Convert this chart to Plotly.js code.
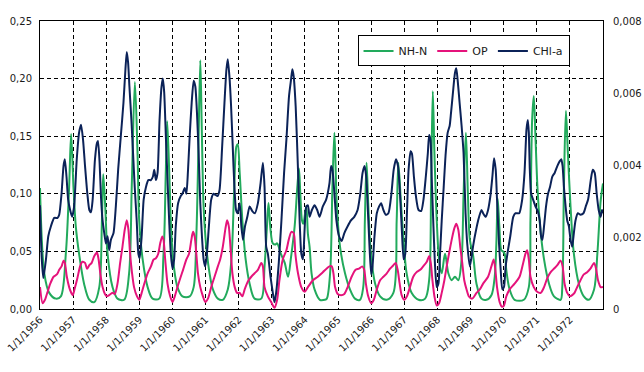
<!DOCTYPE html>
<html>
<head>
<meta charset="utf-8">
<script src="https://cdn.plot.ly/plotly-3.0.1.min.js"></script>
<style>
  html, body { margin: 0; padding: 0; background: #ffffff; }
  #chart { width: 644px; height: 372px; }
</style>
</head>
<body>
<div id="chart"></div>
<script>
// Tick positions (decimal years) and their labels
var tickYears = [1956,1957,1958,1959,1960,1961,1962,1963,1964,1965,1966,1967,1968,1969,1970,1971,1972];
var tickLabels = ['1/1/1956','1/1/1957','1/1/1958','1/1/1959','1/1/1960','1/1/1961','1/1/1962','1/1/1963','1/1/1964','1/1/1965','1/1/1966','1/1/1967','1/1/1968','1/1/1969','1/1/1970','1/1/1971','1/1/1972'];

// NH-N (left axis)
var nhX = [1956.00,1956.13,1956.28,1956.48,1956.63,1956.78,1956.88,1956.94,1957.01,1957.08,
1957.18,1957.33,1957.49,1957.64,1957.79,1957.87,1957.91,1957.97,1958.04,1958.19,
1958.34,1958.54,1958.69,1958.77,1958.865,1958.945,1958.995,1959.10,1959.25,1959.40,
1959.60,1959.73,1959.80,1959.84,1959.90,1959.97,1960.05,1960.15,1960.30,1960.52,
1960.64,1960.72,1960.78,1960.84,1960.88,1960.94,1961.02,1961.12,1961.22,1961.37,
1961.52,1961.67,1961.78,1961.86,1961.93,1961.97,1962.03,1962.11,1962.21,1962.33,
1962.48,1962.68,1962.78,1962.85,1962.90,1962.96,1963.03,1963.10,1963.16,1963.27,
1963.39,1963.49,1963.58,1963.69,1963.77,1963.82,1963.86,1963.91,1963.95,1964.04,
1964.09,1964.14,1964.20,1964.29,1964.45,1964.60,1964.66,1964.76,1964.83,1964.89,
1964.96,1965.06,1965.21,1965.36,1965.51,1965.66,1965.76,1965.81,1965.86,1965.91,
1965.99,1966.12,1966.27,1966.47,1966.67,1966.77,1966.82,1966.90,1966.97,1967.07,
1967.22,1967.43,1967.63,1967.75,1967.81,1967.86,1967.91,1967.98,1968.05,1968.13,
1968.23,1968.33,1968.43,1968.53,1968.63,1968.73,1968.79,1968.86,1968.92,1968.98,
1969.08,1969.18,1969.33,1969.48,1969.63,1969.73,1969.78,1969.82,1969.87,1969.93,
1969.98,1970.03,1970.08,1970.18,1970.33,1970.61,1970.76,1970.81,1970.86,1970.91,
1970.96,1971.02,1971.10,1971.22,1971.37,1971.52,1971.72,1971.77,1971.82,1971.88,
1971.94,1972.02,1972.12,1972.27,1972.42,1972.57,1972.73,1972.83,1972.93,1973.00];
var nhY = [0.105,0.031,0.014,0.009,0.011,0.048,0.106,0.152,0.106,0.072,
0.048,0.022,0.008,0.006,0.019,0.077,0.117,0.089,0.048,0.019,
0.009,0.008,0.031,0.106,0.197,0.135,0.077,0.043,0.019,0.009,
0.009,0.048,0.121,0.163,0.121,0.063,0.035,0.019,0.011,0.011,
0.019,0.063,0.135,0.216,0.164,0.089,0.054,0.031,0.017,0.009,
0.008,0.017,0.043,0.100,0.141,0.143,0.118,0.077,0.043,0.022,
0.009,0.009,0.037,0.070,0.092,0.069,0.057,0.056,0.057,0.048,
0.040,0.028,0.045,0.072,0.106,0.122,0.100,0.077,0.074,0.089,
0.065,0.054,0.031,0.017,0.008,0.008,0.009,0.031,0.106,0.153,
0.092,0.054,0.031,0.017,0.009,0.008,0.019,0.077,0.127,0.092,
0.048,0.022,0.011,0.008,0.014,0.077,0.127,0.092,0.063,0.031,
0.014,0.008,0.009,0.025,0.106,0.189,0.135,0.077,0.043,0.031,
0.048,0.031,0.025,0.028,0.025,0.043,0.100,0.153,0.100,0.060,
0.046,0.022,0.009,0.008,0.012,0.028,0.057,0.096,0.072,0.051,
0.050,0.048,0.034,0.017,0.008,0.008,0.019,0.077,0.164,0.185,
0.150,0.106,0.072,0.043,0.022,0.011,0.008,0.019,0.106,0.172,
0.135,0.089,0.048,0.022,0.011,0.008,0.017,0.048,0.094,0.109];

// OP (left axis)
var opX = [1956.00,1956.08,1956.15,1956.23,1956.31,1956.41,1956.51,1956.58,1956.65,1956.71,
1956.75,1956.81,1956.88,1956.93,1956.99,1957.05,1957.13,1957.21,1957.28,1957.36,
1957.42,1957.49,1957.56,1957.64,1957.72,1957.77,1957.82,1957.89,1957.96,1958.02,
1958.09,1958.19,1958.26,1958.34,1958.42,1958.49,1958.56,1958.62,1958.67,1958.72,
1958.78,1958.84,1958.93,1959.00,1959.07,1959.15,1959.25,1959.35,1959.43,1959.50,
1959.57,1959.63,1959.69,1959.73,1959.78,1959.85,1959.93,1960.00,1960.07,1960.15,
1960.25,1960.32,1960.42,1960.50,1960.57,1960.62,1960.67,1960.72,1960.77,1960.84,
1960.92,1960.99,1961.07,1961.17,1961.27,1961.37,1961.44,1961.52,1961.60,1961.65,
1961.70,1961.75,1961.81,1961.88,1961.95,1962.03,1962.11,1962.18,1962.28,1962.38,
1962.48,1962.58,1962.68,1962.73,1962.78,1962.88,1962.98,1963.08,1963.16,1963.23,
1963.33,1963.44,1963.51,1963.59,1963.66,1963.71,1963.79,1963.89,1963.99,1964.09,
1964.24,1964.39,1964.54,1964.74,1964.81,1964.86,1964.91,1964.99,1965.09,1965.19,
1965.29,1965.41,1965.53,1965.63,1965.73,1965.79,1965.84,1965.91,1966.00,1966.08,
1966.17,1966.27,1966.37,1966.47,1966.57,1966.67,1966.74,1966.80,1966.86,1966.92,
1967.00,1967.08,1967.17,1967.27,1967.37,1967.48,1967.57,1967.68,1967.75,1967.80,
1967.85,1967.91,1967.98,1968.05,1968.13,1968.21,1968.28,1968.35,1968.43,1968.51,
1968.57,1968.63,1968.69,1968.75,1968.81,1968.88,1968.95,1969.05,1969.18,1969.28,
1969.38,1969.53,1969.63,1969.70,1969.75,1969.80,1969.88,1969.95,1970.01,1970.08,
1970.18,1970.33,1970.48,1970.59,1970.66,1970.71,1970.76,1970.81,1970.91,1971.01,
1971.12,1971.22,1971.32,1971.42,1971.52,1971.62,1971.72,1971.78,1971.84,1971.92,
1972.00,1972.07,1972.14,1972.22,1972.32,1972.42,1972.52,1972.62,1972.73,1972.79,
1972.85,1972.93,1973.00];
var opY = [0.019,0.005,0.008,0.015,0.022,0.028,0.030,0.034,0.037,0.042,
0.040,0.028,0.019,0.015,0.012,0.018,0.027,0.037,0.041,0.040,
0.035,0.038,0.040,0.046,0.049,0.043,0.031,0.019,0.013,0.011,
0.012,0.014,0.013,0.022,0.040,0.054,0.069,0.077,0.069,0.048,
0.031,0.019,0.011,0.008,0.014,0.022,0.031,0.037,0.043,0.044,
0.048,0.057,0.063,0.060,0.043,0.022,0.011,0.006,0.011,0.019,
0.028,0.034,0.043,0.048,0.060,0.067,0.063,0.048,0.031,0.019,
0.011,0.006,0.009,0.019,0.028,0.037,0.043,0.054,0.070,0.077,
0.072,0.054,0.031,0.019,0.014,0.014,0.011,0.017,0.024,0.028,
0.031,0.034,0.040,0.037,0.019,0.011,0.006,0.001,0.008,0.025,
0.043,0.051,0.060,0.067,0.066,0.048,0.031,0.019,0.015,0.019,
0.025,0.028,0.032,0.037,0.037,0.031,0.019,0.013,0.012,0.013,
0.019,0.028,0.034,0.035,0.037,0.034,0.022,0.011,0.005,0.008,
0.017,0.025,0.028,0.031,0.035,0.038,0.040,0.034,0.022,0.012,
0.008,0.011,0.019,0.028,0.032,0.034,0.037,0.041,0.046,0.040,
0.025,0.011,0.003,0.005,0.014,0.025,0.037,0.048,0.060,0.070,
0.074,0.069,0.054,0.040,0.025,0.017,0.011,0.009,0.014,0.017,
0.022,0.028,0.037,0.043,0.034,0.019,0.006,0.002,0.003,0.011,
0.017,0.022,0.028,0.040,0.048,0.051,0.043,0.028,0.019,0.015,
0.014,0.019,0.027,0.032,0.035,0.038,0.042,0.037,0.022,0.014,
0.011,0.012,0.014,0.019,0.025,0.030,0.032,0.035,0.040,0.035,
0.025,0.019,0.019];

// CHl-a (right axis)
var chlX = [1956.00,1956.05,1956.10,1956.18,1956.25,1956.33,1956.43,1956.53,1956.58,1956.65,
1956.71,1956.75,1956.80,1956.85,1956.91,1956.97,1957.03,1957.11,1957.18,1957.24,
1957.30,1957.36,1957.43,1957.49,1957.54,1957.59,1957.66,1957.72,1957.75,1957.80,
1957.84,1957.89,1957.94,1957.99,1958.04,1958.09,1958.14,1958.22,1958.29,1958.36,
1958.44,1958.52,1958.58,1958.62,1958.66,1958.70,1958.76,1958.81,1958.86,1958.92,
1958.97,1959.01,1959.07,1959.13,1959.20,1959.27,1959.35,1959.41,1959.45,1959.50,
1959.55,1959.61,1959.67,1959.71,1959.75,1959.80,1959.85,1959.90,1959.95,1960.00,
1960.05,1960.10,1960.17,1960.25,1960.30,1960.37,1960.42,1960.47,1960.52,1960.58,
1960.64,1960.69,1960.74,1960.79,1960.84,1960.89,1960.94,1960.99,1961.04,1961.10,
1961.17,1961.24,1961.30,1961.36,1961.42,1961.50,1961.57,1961.63,1961.67,1961.72,
1961.77,1961.82,1961.87,1961.92,1961.97,1962.03,1962.08,1962.13,1962.19,1962.26,
1962.33,1962.41,1962.49,1962.58,1962.66,1962.73,1962.78,1962.83,1962.88,1962.96,
1963.03,1963.08,1963.13,1963.21,1963.29,1963.37,1963.44,1963.52,1963.58,1963.62,
1963.66,1963.72,1963.79,1963.84,1963.89,1963.94,1963.99,1964.04,1964.09,1964.14,
1964.21,1964.29,1964.37,1964.44,1964.54,1964.64,1964.74,1964.79,1964.83,1964.89,
1964.95,1965.03,1965.11,1965.19,1965.29,1965.39,1965.49,1965.59,1965.67,1965.74,
1965.80,1965.85,1965.90,1965.95,1966.00,1966.04,1966.10,1966.17,1966.24,1966.30,
1966.37,1966.44,1966.52,1966.61,1966.68,1966.75,1966.81,1966.87,1966.93,1966.98,
1967.03,1967.08,1967.13,1967.19,1967.23,1967.29,1967.35,1967.43,1967.51,1967.58,
1967.65,1967.71,1967.75,1967.79,1967.83,1967.88,1967.93,1967.98,1968.03,1968.08,
1968.13,1968.19,1968.25,1968.31,1968.37,1968.41,1968.47,1968.53,1968.57,1968.61,
1968.67,1968.73,1968.79,1968.85,1968.90,1968.98,1969.08,1969.13,1969.23,1969.33,
1969.38,1969.46,1969.53,1969.60,1969.66,1969.71,1969.76,1969.80,1969.86,1969.91,
1969.96,1970.01,1970.06,1970.13,1970.20,1970.29,1970.36,1970.47,1970.56,1970.63,
1970.69,1970.73,1970.76,1970.79,1970.83,1970.89,1970.96,1971.03,1971.09,1971.13,
1971.17,1971.22,1971.28,1971.34,1971.40,1971.47,1971.54,1971.62,1971.69,1971.74,
1971.78,1971.82,1971.87,1971.92,1971.97,1972.02,1972.07,1972.12,1972.17,1972.24,
1972.32,1972.41,1972.48,1972.55,1972.63,1972.69,1972.75,1972.81,1972.87,1972.93,
1972.97,1973.00];
var chlY = [0.00288,0.00144,0.00086,0.00138,0.00202,0.0023,0.00253,0.00253,0.00262,0.0032,
0.00397,0.00416,0.00368,0.00304,0.00275,0.00256,0.00285,0.00416,0.0049,0.00512,
0.0047,0.00397,0.0032,0.00275,0.00269,0.00304,0.00416,0.00461,0.00467,0.00406,
0.00314,0.00246,0.00211,0.00182,0.00202,0.00163,0.00192,0.00211,0.00285,0.00387,
0.0048,0.00573,0.00666,0.00714,0.00685,0.00618,0.00525,0.00432,0.00339,0.00246,
0.00154,0.00141,0.00202,0.00304,0.00339,0.00358,0.00358,0.00368,0.00387,0.00358,
0.00378,0.00525,0.00618,0.0064,0.00602,0.0048,0.00358,0.00246,0.00154,0.00112,
0.00138,0.0023,0.00294,0.00314,0.0032,0.00336,0.0032,0.00387,0.0048,0.00573,
0.00634,0.00618,0.00544,0.00432,0.00294,0.00202,0.00138,0.00118,0.00154,0.0023,
0.00304,0.0032,0.00317,0.00314,0.0033,0.00451,0.00573,0.00666,0.00694,0.00646,
0.00563,0.00451,0.00339,0.00275,0.00266,0.00294,0.0023,0.00192,0.0023,0.00256,
0.00285,0.00272,0.00266,0.00294,0.00349,0.00406,0.00339,0.00173,0.00154,0.0009,
0.00045,0.00019,0.00045,0.00128,0.00246,0.00378,0.0047,0.00592,0.00637,0.00666,
0.00646,0.00563,0.00387,0.00246,0.00154,0.00138,0.00221,0.00285,0.00288,0.00256,
0.00275,0.00288,0.00275,0.00256,0.00285,0.00304,0.00349,0.00397,0.00387,0.0032,
0.00246,0.00202,0.00189,0.00211,0.0023,0.00246,0.00256,0.00275,0.0032,0.00378,
0.00397,0.00368,0.00275,0.00173,0.00096,0.00118,0.00202,0.00266,0.00285,0.00294,
0.00275,0.00262,0.00266,0.0032,0.00387,0.00416,0.00397,0.0032,0.00211,0.00138,
0.00154,0.00266,0.00387,0.00438,0.00432,0.00368,0.00314,0.00275,0.00272,0.00304,
0.00368,0.00432,0.00483,0.0047,0.00358,0.0023,0.00118,0.00061,0.0007,0.00154,
0.00246,0.00339,0.00432,0.0049,0.00509,0.00544,0.00602,0.00656,0.00669,0.00637,
0.00573,0.00509,0.00432,0.00266,0.00182,0.00118,0.00176,0.00202,0.00246,0.00275,
0.00266,0.00256,0.00275,0.00314,0.00368,0.00419,0.00387,0.00304,0.00182,0.00109,
0.00054,0.00061,0.00118,0.00163,0.00202,0.00256,0.00266,0.00266,0.00304,0.00378,
0.00499,0.00525,0.0049,0.00387,0.0032,0.00304,0.00285,0.00272,0.00246,0.00202,
0.00192,0.0023,0.00285,0.0032,0.00339,0.00368,0.00378,0.00397,0.0041,0.00416,
0.00397,0.00339,0.00285,0.00246,0.0023,0.00192,0.00173,0.00211,0.00246,0.00266,
0.00262,0.00266,0.00285,0.00304,0.00358,0.00387,0.00378,0.0032,0.00275,0.00256,
0.00275,0.00266];

var seriesNames = ['NH-N', 'OP', 'CHl-a'];

var traces = [
  { x: nhX, y: nhY, name: seriesNames[0], type: 'scatter', mode: 'lines',
    line: { color: '#22AA5C', width: 2, shape: 'spline', smoothing: 0.9 }, yaxis: 'y' },
  { x: opX, y: opY, name: seriesNames[1], type: 'scatter', mode: 'lines',
    line: { color: '#E5137B', width: 2, shape: 'spline', smoothing: 0.7 }, yaxis: 'y' },
  { x: chlX, y: chlY, name: seriesNames[2], type: 'scatter', mode: 'lines',
    line: { color: '#0B2258', width: 2, shape: 'spline', smoothing: 0.6 }, yaxis: 'y2' }
];

var layout = {
  width: 644, height: 372,
  margin: { l: 40, r: 41, t: 21, b: 63 },
  paper_bgcolor: '#ffffff', plot_bgcolor: '#ffffff',
  separators: ',.',
  font: { family: 'DejaVu Sans, Verdana, sans-serif', size: 10, color: '#1a1a1a' },
  showlegend: true,
  legend: {
    orientation: 'h', x: 0.564, y: 0.95, xanchor: 'left', yanchor: 'top',
    bgcolor: '#ffffff', bordercolor: '#000000', borderwidth: 1,
    font: { size: 11, color: '#1a1a1a' }
  },
  xaxis: {
    type: 'linear', range: [1956, 1973],
    tickmode: 'array', tickvals: tickYears, ticktext: tickLabels,
    tickangle: -45, ticks: '',
    showgrid: true, gridcolor: '#000000', gridwidth: 1, griddash: '4px,3px',
    showline: true, linecolor: '#000000', linewidth: 1, mirror: true,
    zeroline: false
  },
  yaxis: {
    range: [0, 0.25], dtick: 0.05, tick0: 0, tickformat: '.2f', ticks: '',
    ticklabelstandoff: 5,
    showgrid: true, gridcolor: '#000000', gridwidth: 1, griddash: '4px,3px',
    showline: true, linecolor: '#000000', linewidth: 1,
    zeroline: false
  },
  yaxis2: {
    overlaying: 'y', side: 'right',
    range: [0, 0.008], dtick: 0.002, tick0: 0, ticks: '',
    ticklabelstandoff: 7,
    showgrid: false, zeroline: false,
    showline: true, linecolor: '#000000', linewidth: 1
  }
};

Plotly.newPlot('chart', traces, layout, { staticPlot: true, displayModeBar: false });
</script>
</body>
</html>
